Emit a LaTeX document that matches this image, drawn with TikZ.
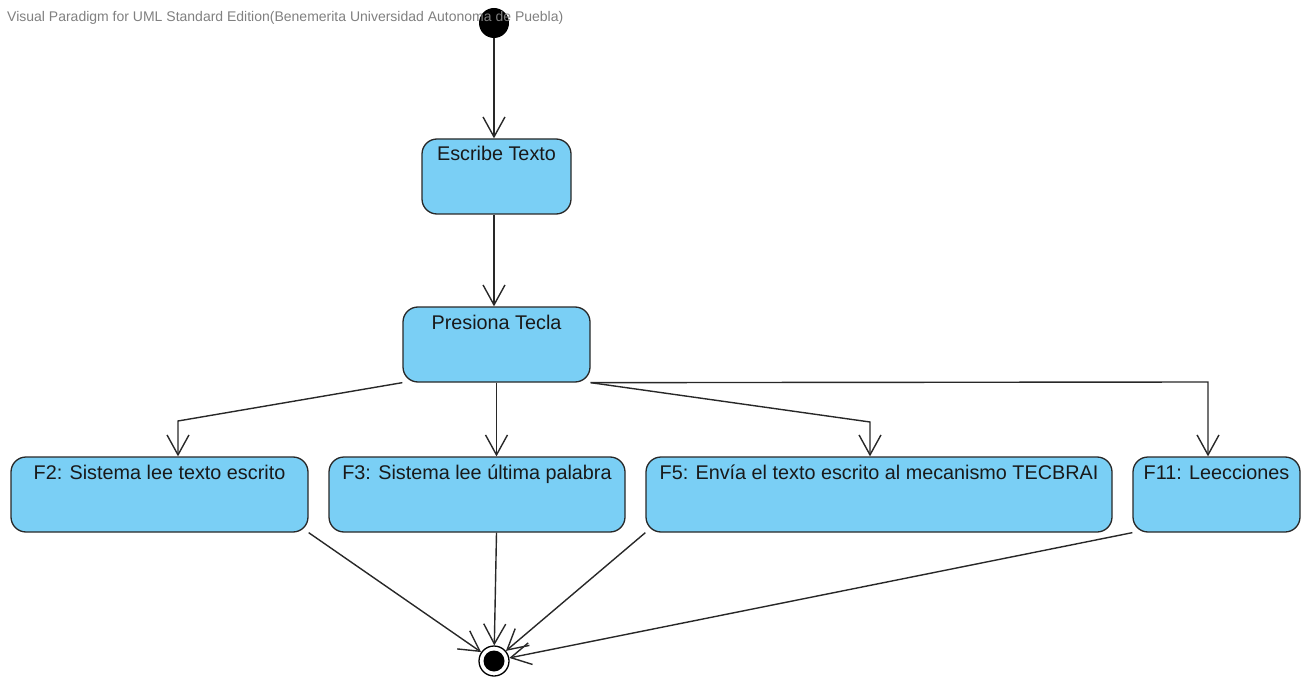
\documentclass[tikz,border=0pt]{standalone}
\usepackage{fontspec}
\setmainfont{Liberation Sans}
\usetikzlibrary{arrows.meta,calc}
\definecolor{actfill}{RGB}{122,207,245}
\definecolor{edgecol}{RGB}{40,40,40}
\begin{document}
\begin{tikzpicture}[x=1pt,y=-1pt,
  action/.style={draw=edgecol,fill=actfill,line width=1.3pt,rounded corners=15pt,
    minimum height=75pt,inner sep=0pt},
  lbl/.style={anchor=base,font=\fontsize{19.8}{22}\selectfont,text=black!90,inner sep=0pt},
  flow/.style={draw=edgecol,line width=1.4pt,-{Straight Barb[length=20pt,width=22pt,line width=1.4pt]}},
]
\useasboundingbox (0,0) rectangle (1304,679);
% initial and final states
\node[circle,fill=black,minimum size=30pt,inner sep=0pt] (start) at (494,23) {};
\node[circle,draw=black,line width=1.3pt,fill=white,minimum size=30pt,inner sep=0pt] (fin) at (494,661) {};
\fill[black] (fin.center) circle (10.5pt);
% header text, printed over the initial state
\node[anchor=base west,inner sep=0pt,text=black!50,font=\fontsize{14}{16}\selectfont] (wm) at (7,22)
  {Visual Paradigm for UML Standard Edition(Benemerita Universidad Autonoma de Puebla)};
% actions
\node[action,minimum width=149pt] (esc) at (496.5,176.5) {};
\node[lbl] at (496.5,161) {Escribe Texto};
\node[action,minimum width=187pt] (pre) at (496.5,344.5) {};
\node[lbl] at (496.5,329) {Presiona Tecla};
\node[action,minimum width=297pt] (f2) at (159.5,494.5) {};
\node[lbl] at (159.5,479) {F2: Sistema lee texto escrito};
\node[action,minimum width=296pt] (f3) at (477,494.5) {};
\node[lbl] at (477,479) {F3: Sistema lee última palabra};
\node[action,minimum width=466pt] (f5) at (879,494.5) {};
\node[lbl] at (879,479) {F5: Envía el texto escrito al mecanismo TECBRAI};
\node[action,minimum width=167pt] (f11) at (1216.5,494.5) {};
\node[lbl] at (1216.5,479) {F11: Leecciones};
% bend points
\coordinate (b2) at (178,421);
\coordinate (b5) at (870,422);
\coordinate (b11) at (1208,382);
% transitions
\draw[flow] (start) -- (start |- esc.north);
\draw[flow] (start |- esc.south) -- (start |- pre.north);
\draw[flow] (pre.south west) -- (b2) -- (b2 |- f2.north);
\draw[flow] (pre.south) -- (pre.south |- f3.north);
\draw[flow] (pre.south east) -- (b5) -- (b5 |- f5.north);
\draw[flow] (pre.south east) -- (b11) -- (b11 |- f11.north);
\draw[flow] (f2.south east) -- (fin);
\draw[flow] (pre.south |- f3.south) -- (fin);
\draw[flow] (f5.south west) -- (fin);
\draw[flow] (f11.south west) -- (fin);
\end{tikzpicture}
\end{document}
